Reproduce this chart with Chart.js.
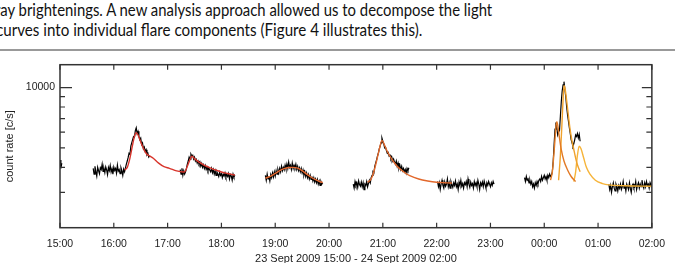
<!DOCTYPE html>
<html lang="en">
<head>
    <meta charset="UTF-8">
    <title>Flare light curve</title>
    <script src="https://cdn.jsdelivr.net/npm/chart.js"></script>
    <style>
        html, body {
            margin: 0;
            padding: 0;
            width: 675px;
            height: 263px;
            overflow: hidden;
            background: #fff;
        }
        .para {
            position: absolute;
            white-space: nowrap;
            font-family: Lato, "Open Sans", sans-serif;
            font-size: 17.5px;
            line-height: 20px;
            color: #111;
            transform-origin: 0 0;
        }
        .rule {
            position: absolute;
            left: 0;
            top: 49px;
            width: 675px;
            height: 1.5px;
            background: #999;
        }
        .chart-box {
            position: absolute;
            left: 0;
            top: 50px;
            width: 675px;
            height: 218px;
        }
    </style>
</head>
<body>
    <div class="para" id="line1" style="top:0.3px; left:-5px">ray brightenings. A new analysis approach allowed us to decompose the light</div>
    <div class="para" id="line2" style="top:20.3px; left:-4.5px">curves into individual flare components (Figure 4 illustrates this).</div>
    <div class="rule"></div>
    <div class="chart-box">
        <canvas id="lc"></canvas>
    </div>

    <script>
        // time axis: minutes after 23 Sept 2009 15:00, one sample per minute
        const obsStart = [0, 37, 134, 229, 327, 421, 518, 612];

        const obs0 = [4350, 3950, 4200];
        const obs1 = [3950, 3700, 4050, 3800, 3620, 4000, 3850, 3720, 3980, 3900,
                      4150, 3820, 3950, 3760, 4020, 3880, 3680, 3990, 3850, 4080,
                      3790, 3940, 3700, 4010, 3860, 3950, 3740, 4100, 3830, 3900,
                      3720, 3980, 3850, 3650, 3920,
                      3800, 3980, 4150, 4300, 4480, 4700, 4650, 5100, 5300, 5500,
                      5700, 5650, 6100, 6300, 5900, 6050, 5700, 5500, 5600, 5200,
                      5300, 4950, 5050, 4800, 4900, 4620, 4700, 4500, 4560];
        const obs2 = [3900, 3700, 3960, 3650, 3850, 3700, 3800,
                      3950, 4150, 4300, 4500, 4400, 4650, 4550,
                      4600, 4400, 4500, 4300, 4380, 4200, 4300, 4150, 4250, 4050,
                      4180, 4000, 4120, 3950, 4080, 3900, 4000, 3850, 3980, 3880,
                      3800, 3950, 3760, 3900, 3700, 3850, 3650, 3800, 3700, 3600,
                      3780, 3650, 3720, 3550, 3700, 3620, 3750, 3580, 3680, 3600,
                      3720, 3500, 3680, 3620, 3450, 3700, 3580, 3650];
        const obs3 = [3650, 3450, 3700, 3500, 3600, 3420, 3680, 3550, 3750, 3580,
                      3800, 3620, 3850, 3700, 3900, 3750, 3950, 3800, 4050, 3850,
                      4000, 3880, 4100, 3920, 4150, 3950, 4250, 4000, 4100, 3900,
                      4200, 3950, 4100, 3980, 4150, 3900, 4050, 3850, 3980, 3800,
                      3950, 3750, 3880, 3650, 3800, 3600, 3750, 3550, 3680, 3500,
                      3650, 3480, 3600, 3420, 3550, 3380, 3500, 3350, 3480, 3300,
                      3420, 3250, 3400, 3300, 3350];
        const obs4 = [3300, 3150, 3400, 3250, 3350, 3180, 3420, 3280, 3220, 3380,
                      3200, 3350, 3100, 3300, 3250, 3400, 3200, 3330, 3450, 3350,
                      3550, 3650, 3800, 3750, 4050, 4200, 4350, 4550, 4700, 4950,
                      5100, 5300, 5600, 5400, 5250, 5000, 5050, 4850, 4700, 4750,
                      4550, 4600, 4400, 4500, 4300, 4400, 4250, 4150, 4300, 4050,
                      4200, 3950, 4100, 3900, 4050, 3850, 3950, 3800, 3900, 3750,
                      3950, 3850, 3980];
        const obs5 = [3400, 3200, 3350, 3100, 3300, 3450, 3250, 3150, 3380, 3220,
                      3300, 3500, 3200, 3350, 3150, 3400, 3280, 3180, 3350, 3250,
                      3420, 3200, 3300, 3100, 3380, 3250, 3450, 3220, 3320, 3150,
                      3350, 3280, 3400, 3200, 3500, 3300, 3180, 3380, 3250, 3320,
                      3150, 3400, 3250, 3350, 3200, 3450, 3300, 3100, 3350, 3250,
                      3380, 3200, 3420, 3280, 3150, 3350, 3250, 3400, 3300, 3200,
                      3350, 3250, 3400, 3300];
        const obs6 = [3550, 3400, 3600, 3450, 3500, 3350, 3450, 3300, 3400, 3200,
                      3300, 3150, 3350, 3250, 3400, 3300, 3450,
                      3500, 3400, 3600, 3450, 3550, 3650, 3500, 3600, 3450, 3650,
                      3550, 3700, 3600, 3650,
                      3800, 4300, 5200, 6200, 6700,
                      6300, 5800, 6000, 6100,
                      7200, 8500, 9600, 10300, 10700,
                      9800, 9000, 8000, 7300, 6800, 6300, 5900, 5500, 5300, 5100,
                      5250, 5500, 5800, 5700, 5900, 5600, 5850, 5400];
        const obs7 = [3300, 3100, 3250, 3000, 3200, 3350, 3150, 3050, 3300, 3200,
                      3050, 3250, 3150, 3300, 3100, 3200, 3400, 3150, 3250, 3050,
                      3300, 3200, 3100, 3350, 3150, 3000, 3250, 3300, 3150, 3200,
                      3400, 3100, 3250, 3350, 3150, 3300, 3200, 3450, 3250, 3150,
                      3350, 3200, 3400, 3250, 3300, 3150, 3350, 3250, 3300];
        const obsSeries = [obs0, obs1, obs2, obs3, obs4, obs5, obs6, obs7];

        // fitted flare components: [minute, count rate]
        const fitA = [[72, 3880], [75, 4000], [78, 4450], [81, 5200], [83, 5700], [85, 5950],
                      [87, 5800], [90, 5350], [93, 4980], [96, 4700], [100, 4560], [104, 4440],
                      [110, 4200], [116, 4030], [122, 3955], [130, 3840], [137, 3790],
                      [139, 3800], [142, 4050], [145, 4380], [147, 4550], [150, 4420],
                      [155, 4250], [160, 4120], [165, 4020], [170, 3930], [175, 3860],
                      [180, 3790], [185, 3740], [190, 3700], [195, 3660]];
        const fitB = [[229, 3530], [235, 3620], [240, 3730], [245, 3850], [250, 3940],
                      [255, 3990], [260, 4000], [265, 3960], [270, 3850], [275, 3700],
                      [280, 3570], [285, 3470], [290, 3390], [293, 3360]];
        const fitC = [[343, 3370], [347, 3500], [350, 3800], [353, 4300], [356, 4900],
                      [359, 5450], [362, 5150], [365, 4800], [370, 4400], [375, 4100],
                      [380, 3900], [385, 3750], [390, 3640], [400, 3500], [410, 3420],
                      [420, 3370], [437, 3340]];
        const fitD1 = [[547, 3450], [549, 3800], [551, 4800], [553, 6300], [554, 6750],
                       [555, 6500], [557, 5600], [559, 4900], [562, 4300], [566, 3880],
                       [570, 3600], [575, 3400]];
        const fitD2 = [[556, 3450], [558, 4600], [560, 7000], [561, 8700], [562, 10200],
                       [563, 10000], [565, 8600], [567, 7200], [569, 6100], [571, 5400],
                       [573, 4900], [575, 4450], [577, 4120], [580, 3800]];
        const fitD3 = [[573, 3390], [575, 3800], [577, 4600], [579, 5100], [581, 4950],
                       [584, 4450], [587, 4000], [591, 3700], [597, 3450], [605, 3320],
                       [612, 3270], [630, 3240], [660, 3220]];

        const fitSeries = [fitA, fitB, fitC, fitD1, fitD2, fitD3];
        const fitColors = ['#d8352c', '#e2652d', '#e2682c', '#e27a26', '#f0a22c', '#f6b43a'];

        const yTickVals = [3000, 4000, 5000, 6000, 7000, 8000, 9000, 10000];

        const datasets = [];
        fitSeries.forEach((f, k) => {
            datasets.push({
                data: f.map(p => ({x: p[0], y: p[1]})),
                borderColor: fitColors[k],
                borderWidth: 1.4,
                pointRadius: 0,
                cubicInterpolationMode: 'monotone',
                order: 0
            });
        });
        obsSeries.forEach((s, k) => {
            datasets.push({
                data: s.map((v, i) => ({x: obsStart[k] + i, y: v})),
                borderColor: '#000',
                borderWidth: 1.2,
                pointRadius: 0,
                tension: 0,
                order: 1
            });
        });

        // box frame with inward tick marks on all four sides
        const frame = {
            id: 'frame',
            afterDatasetsDraw(chart) {
                const {ctx, chartArea: a, scales: {x, y}} = chart;
                ctx.save();
                ctx.strokeStyle = '#333';
                ctx.lineWidth = 1.5;
                ctx.strokeRect(a.left, a.top, a.right - a.left, a.bottom - a.top);
                ctx.lineWidth = 1.2;
                ctx.beginPath();
                x.ticks.forEach(t => {
                    const px = x.getPixelForValue(t.value);
                    ctx.moveTo(px, a.bottom); ctx.lineTo(px, a.bottom - 5);
                    ctx.moveTo(px, a.top); ctx.lineTo(px, a.top + 5);
                });
                y.ticks.forEach(t => {
                    const py = y.getPixelForValue(t.value);
                    const major = t.value === 10000;
                    ctx.moveTo(a.left, py); ctx.lineTo(a.left + (major ? 12 : 5), py);
                    ctx.moveTo(a.right, py); ctx.lineTo(a.right - (major ? 10 : 5.5), py);
                });
                ctx.stroke();
                ctx.restore();
            }
        };

        const tickFont = {family: 'Liberation Sans', size: 10.5};
        const titleFont = {family: 'Liberation Sans', size: 11};

        new Chart(document.getElementById('lc'), {
            type: 'line',
            data: {datasets: datasets},
            options: {
                responsive: true,
                maintainAspectRatio: false,
                animation: false,
                layout: {padding: {top: 14.7, right: 21, left: 0, bottom: 0}},
                plugins: {
                    legend: {display: false},
                    tooltip: {enabled: false}
                },
                scales: {
                    x: {
                        type: 'linear',
                        min: 0,
                        max: 660,
                        grid: {display: false, drawTicks: false},
                        border: {display: false},
                        afterFit: s => { s.height = 40.3; },
                        ticks: {
                            stepSize: 60,
                            autoSkip: false,
                            maxRotation: 0,
                            padding: 10,
                            color: '#222',
                            font: tickFont,
                            callback: v => String((15 + v / 60) % 24).padStart(2, '0') + ':00'
                        },
                        title: {
                            display: true,
                            text: '23 Sept 2009 15:00 - 24 Sept 2009 02:00',
                            color: '#222',
                            font: titleFont,
                            padding: {top: 0, bottom: 2}
                        }
                    },
                    y: {
                        type: 'logarithmic',
                        min: 2000,
                        max: 13000,
                        grid: {display: false, drawTicks: false},
                        border: {display: false},
                        afterFit: s => { s.width = 60; },
                        afterBuildTicks: s => { s.ticks = yTickVals.map(v => ({value: v})); },
                        ticks: {
                            padding: 5,
                            color: '#222',
                            font: tickFont,
                            callback: v => (v === 10000 ? '10000' : '')
                        },
                        title: {
                            display: true,
                            text: 'count rate [c/s]',
                            color: '#222',
                            font: titleFont,
                            padding: {top: 3.5, bottom: 0}
                        }
                    }
                }
            },
            plugins: [frame]
        });

        // squeeze paragraph lines to the measured widths of the original text
        [['line1', 497.3], ['line2', 426.2]].forEach(([id, w]) => {
            const el = document.getElementById(id);
            const k = w / el.getBoundingClientRect().width;
            el.style.transform = 'scaleX(' + k.toFixed(3) + ')';
        });
    </script>
</body>
</html>
